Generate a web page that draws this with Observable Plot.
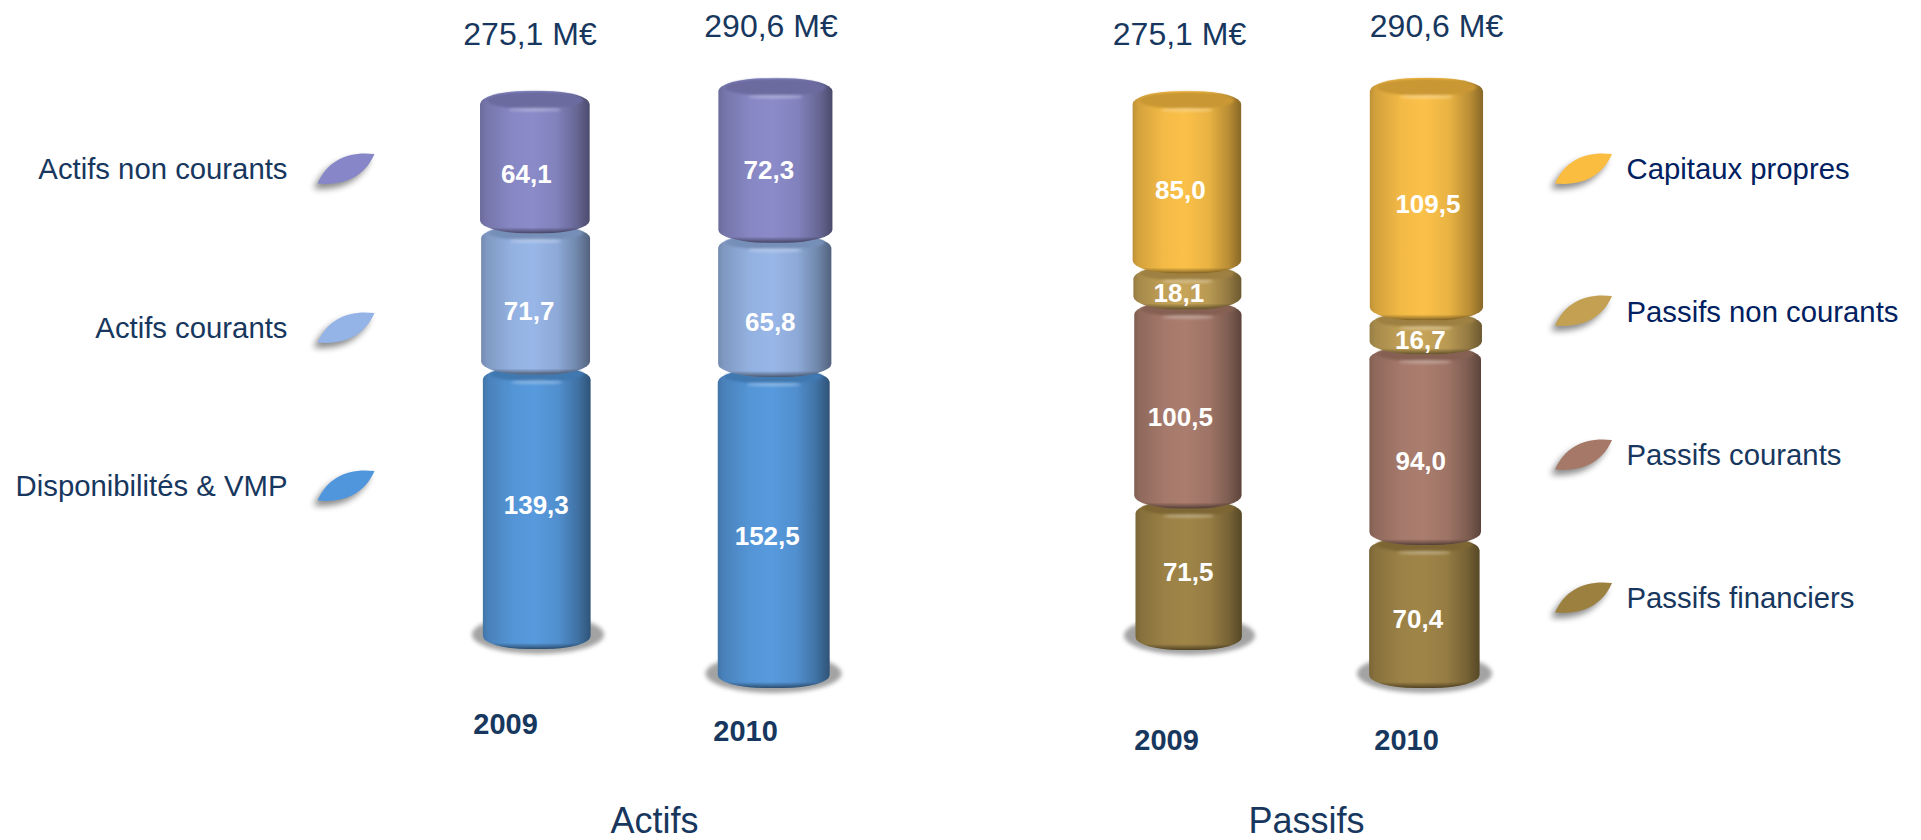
<!DOCTYPE html>
<html lang="fr">
<head>
<meta charset="utf-8">
<title>Actifs et Passifs</title>
<script src="https://cdn.jsdelivr.net/npm/d3@7"></script>
<script src="https://cdn.jsdelivr.net/npm/@observablehq/plot@0.6"></script>
<style>
  html, body { margin: 0; padding: 0; background: #fff; }
  svg { display: block; }
</style>
</head>
<body>
<div id="chart"></div>
<script>
// ---- data (M€), bottom of the stack first ----
const actifsCategories = ["Disponibilités & VMP", "Actifs courants", "Actifs non courants"];
const passifsCategories = ["Passifs financiers", "Passifs courants", "Passifs non courants", "Capitaux propres"];
const actifs2009 = [139.3, 71.7, 64.1];
const actifs2010 = [152.5, 65.8, 72.3];
const passifs2009 = [71.5, 100.5, 18.1, 85.0];
const passifs2010 = [70.4, 94.0, 16.7, 109.5];
const totalLabels = ["275,1 M€", "290,6 M€", "275,1 M€", "290,6 M€"];
const yearLabels = ["2009", "2010", "2009", "2010"];
const groupLabels = ["Actifs", "Passifs"];

// ---- styles ----
const ink = "#17375e";
const navy = "#002060";
const actifsColors = ["#5096dc", "#94b3e6", "#8686c8"];
const passifsColors = ["#9c8040", "#a67868", "#c4a052", "#fbbd40"];

// ---- layout of the four drawn columns (perspective makes them differ) ----
const columnValues = [actifs2009, actifs2010, passifs2009, passifs2010];
const columnColors = [actifsColors, actifsColors, passifsColors, passifsColors];
const columnBase = [95.5, 76, 95, 76];              // foot of the column, in y units
const columnStretch = [0.985, 1.02, 0.99, 1.015];   // depth factor
const columnCapRise = [8, 8.5, 7, 10];
const columnLeftFoot = [484, 717.5, 1136, 1369];
const columnRightFoot = [591, 828.5, 1242, 1479];
const columnLeftTop = [479.5, 718.5, 1132, 1370];
const columnRightTop = [589.5, 833, 1241, 1484];
const labelNudgeX = [[-1, -7, -9], [-7, -5, -7], [-1, -8, -9, -7], [-7, -5, -6, 1]];
const labelNudgeY = [[-7, 7, 4], [3.5, 12, 1], [-7, 8, 1.5, 0.5], [2.5, 11.5, 3, -5]];
const totalPlace = [[529.5, 44], [770.5, 36], [1179, 44], [1436, 36]];
const yearPlace = [[505, 733], [745, 740], [1166, 749], [1406, 749]];
const groupPlace = [[654, 832], [1306, 832]];
const legendLeftY = [[495, 485], [337, 327], [178, 168]];
const legendRightY = [[607, 597], [464, 454], [321, 310], [178, 168]];
const overlapUnits = 4;
const W = 1921, H = 840;

const rows = [];
columnValues.forEach((vals, c) => {
  const total = d3.sum(vals);
  let cum = 0;
  vals.forEach((value, i) => {
    const isTop = i === vals.length - 1;
    const f = (cum + value / 2) / total;
    const x1 = columnLeftFoot[c] + (columnLeftTop[c] - columnLeftFoot[c]) * f;
    const x2 = columnRightFoot[c] + (columnRightTop[c] - columnRightFoot[c]) * f;
    const lo = columnBase[c] + cum * columnStretch[c];
    const hi = columnBase[c] + (cum + value) * columnStretch[c];
    rows.push({
      id: `s${c}-${i}`, color: columnColors[c][i], value, isTop,
      label: value.toFixed(1).replace(".", ","),
      x1, x2, y1: lo, y2: hi + (isTop ? columnCapRise[c] : overlapUnits),
      lx: (x1 + x2) / 2 + labelNudgeX[c][i],
      ly: (lo + hi) / 2 - labelNudgeY[c][i] / 2
    });
    cum += value;
  });
});

const shadows = columnBase.map((b, c) => ({
  x1: columnLeftFoot[c] - 12, x2: columnRightFoot[c] + 13, y1: b - 2.5, y2: b + 17
}));

const dark = (col, k) => d3.interpolateRgb("#000", col)(k);
const light = (col, k) => d3.interpolateRgb(col, "#fff")(k);

function defsMark() {
  const defs = d3.create("svg:defs");
  rows.forEach(r => {
    const main = light(r.color, .04);
    const g = defs.append("linearGradient").attr("id", r.id).attr("x1", 0).attr("x2", 1).attr("y1", 0).attr("y2", 0);
    [[0, .76], [.05, .84], [.28, .97], [.48, 1], [.7, .93], [.88, .74], [1, .54]].forEach(([o, k]) =>
      g.append("stop").attr("offset", o).attr("stop-color", dark(main, k)));
    const h = (r.y2 - r.y1) * 2;
    const s = defs.append("linearGradient").attr("id", r.id + "e").attr("x1", 0).attr("x2", 0).attr("y1", 0).attr("y2", 1);
    s.append("stop").attr("offset", 1 - 6 / h).attr("stop-color", "#000").attr("stop-opacity", 0);
    s.append("stop").attr("offset", 1).attr("stop-color", "#000").attr("stop-opacity", .5);
  });
  return defs.node();
}

// leaf-shaped legend key, as a custom symbol for the dot mark (r = 29)
const leaf = {
  draw(ctx, size) {
    const k = Math.sqrt(size / Math.PI) / 29;
    ctx.moveTo(-28.5 * k, 15 * k);
    ctx.bezierCurveTo(-18 * k, -9 * k, 3 * k, -17.5 * k, 28.5 * k, -14.5 * k);
    ctx.bezierCurveTo(21 * k, 3 * k, 4 * k, 18 * k, -28.5 * k, 15 * k);
    ctx.closePath();
  }
};

function textAt(text, x, y, o) {
  return Plot.text([text], {
    frameAnchor: "top-left", dx: x, dy: y, lineAnchor: "bottom", fontFamily: "Liberation Sans", ...o
  });
}

const cylinderMarks = rows.flatMap(r => {
  const w = r.x2 - r.x1;
  const capH = r.isTop ? 18 : 15;
  const cx = (r.x1 + r.x2) / 2;
  const one = [r];
  return [
    Plot.rect(one, {x1: "x1", x2: "x2", y1: "y1", y2: "y2", fill: `url(#${r.id})`, rx: w * .42, ry: 13}),
    Plot.rect(one, {x1: "x1", x2: "x2", y1: "y1", y2: "y2", fill: `url(#${r.id}e)`, rx: w * .42, ry: 13}),
    Plot.rect(one, {
      x1: d => d.x1 + 7, x2: d => d.x2 - 7, y1: d => d.y2 - capH / 2, y2: d => d.y2 - 0.25,
      fill: dark(r.color, .8), rx: w / 2 - 7, ry: capH / 2, imageFilter: "blur(1px)"
    }),
    Plot.rect(one, {
      x1: () => cx - w * .24, x2: () => cx + w * .24, y1: d => d.y2 - (capH + 2) / 2, y2: d => d.y2 - (capH - 1) / 2,
      fill: light(r.color, .45), fillOpacity: .85, rx: w * .24, ry: 2, imageFilter: "blur(1.5px)"
    })
  ];
});

const chart = Plot.plot({
  width: W, height: H,
  margin: 0,
  x: {domain: [0, W], axis: null},
  y: {domain: [0, H / 2], axis: null},
  color: {type: "identity"},
  style: {background: "#fff", fontFamily: "Liberation Sans"},
  marks: [
    defsMark,
    Plot.rect(shadows, {x1: "x1", x2: "x2", y1: "y1", y2: "y2", fill: "#a3a3a3", rx: 68, ry: 20, imageFilter: "blur(2px)"}),
    ...cylinderMarks,
    Plot.text(rows, {x: "lx", y: "ly", text: "label", fill: "#fff", fontWeight: "bold", fontSize: 26, fontFamily: "Liberation Sans"}),
    ...totalLabels.map((t, i) => textAt(t, totalPlace[i][0], totalPlace[i][1], {fontSize: 32, fill: ink, textAnchor: "middle"})),
    ...yearLabels.map((t, i) => textAt(t, yearPlace[i][0], yearPlace[i][1], {fontSize: 29, fontWeight: "bold", fill: ink, textAnchor: "middle"})),
    ...groupLabels.map((t, i) => textAt(t, groupPlace[i][0], groupPlace[i][1], {fontSize: 36, fill: ink, textAnchor: "middle"})),
    ...actifsCategories.flatMap((t, i) => [
      textAt(t, 287, legendLeftY[i][0], {fontSize: 29.3, fill: ink, textAnchor: "end"}),
      Plot.dot([t], {frameAnchor: "top-left", dx: 345.5, dy: legendLeftY[i][1], symbol: leaf, r: 29, fill: actifsColors[i],
        imageFilter: "drop-shadow(-4px 5px 3px rgba(0,0,0,.45))"})
    ]),
    ...passifsCategories.flatMap((t, i) => [
      textAt(t, 1626, legendRightY[i][0], {fontSize: 29.3, fill: i >= 2 ? navy : ink, textAnchor: "start"}),
      Plot.dot([t], {frameAnchor: "top-left", dx: 1583, dy: legendRightY[i][1], symbol: leaf, r: 29, fill: passifsColors[i],
        imageFilter: "drop-shadow(-4px 5px 3px rgba(0,0,0,.45))"})
    ])
  ]
});
document.getElementById("chart").append(chart);
</script>
</body>
</html>
